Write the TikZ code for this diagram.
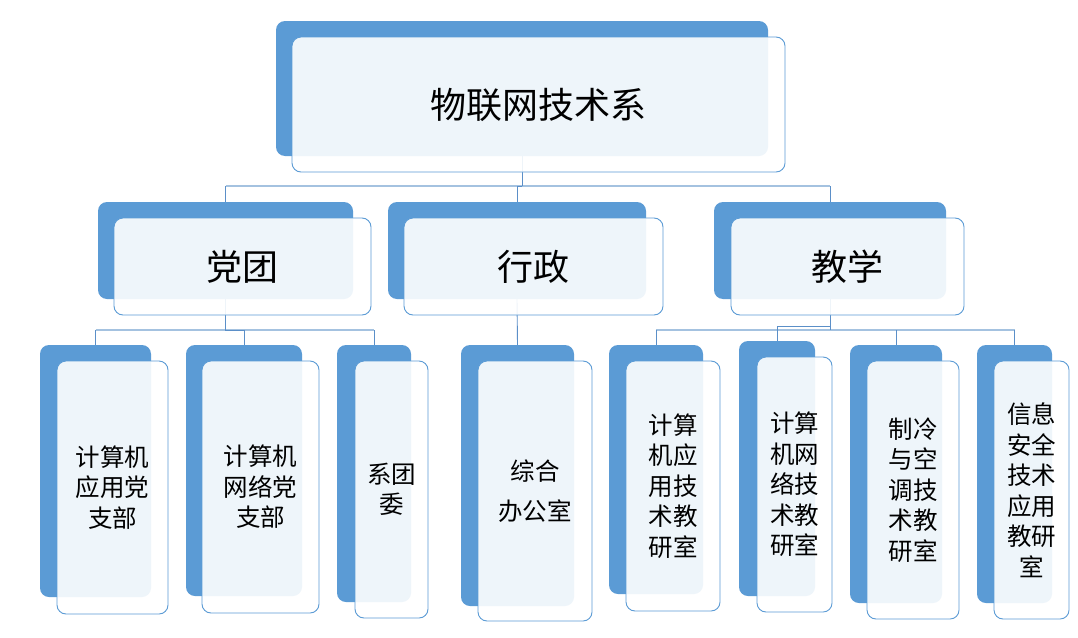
\documentclass[tikz,border=0pt]{standalone}
\usepackage{fontspec}
\newfontfamily\cjk{Noto Sans CJK SC}
\definecolor{backblue}{HTML}{5B9BD5}
\definecolor{edgeblue}{HTML}{5B9BD5}
\definecolor{connblue}{HTML}{5B8FC8}
\definecolor{busblue}{HTML}{A4C2E0}
\tikzset{
  back/.style={fill=backblue, draw=none, rounded corners=9pt, inner sep=0pt},
  front/.style={fill=white, fill opacity=0.9, text opacity=1, draw=edgeblue, line width=0.9pt, rounded corners=9pt, inner sep=0pt, align=center, font=\cjk},
  big/.style={font=\cjk\fontsize{36}{40}\selectfont},
  small/.style={font=\cjk\fontsize{24.5}{30.5}\selectfont},
  conn/.style={draw=connblue, line width=0.9pt},
  bus/.style={draw=busblue, line width=2pt},
}
\begin{document}
\begin{tikzpicture}[x=1pt,y=-1pt]
\useasboundingbox (0,0) rectangle (1078,637);
\fill[white] (0,0) rectangle (1078,637);
% bus coordinates
\coordinate (bus1) at (0,186);
\coordinate (bus2) at (0,330);
\coordinate (bus3) at (0,330);
\coordinate (bus3b) at (0,326);
% back boxes
\node[back, minimum width=492pt, minimum height=135pt] (t0b) at (522,88.5) {};
\node[back, minimum width=255pt, minimum height=97pt] (m1b) at (225.5,250.5) {};
\node[back, minimum width=258pt, minimum height=97pt] (m2b) at (517,250.5) {};
\node[back, minimum width=232pt, minimum height=97pt] (m3b) at (830,250.5) {};
\node[back, minimum width=111pt, minimum height=252pt] (l1b) at (95.5,471) {};
\node[back, minimum width=116pt, minimum height=251pt] (l2b) at (244,470.5) {};
\node[back, minimum width=74pt, minimum height=257pt] (l3b) at (374,473.5) {};
\node[back, minimum width=113pt, minimum height=261pt] (l4b) at (517.5,475.5) {};
\node[back, minimum width=94pt, minimum height=249pt] (l5b) at (656,469.5) {};
\node[back, minimum width=76pt, minimum height=255pt] (l6b) at (777,468.5) {};
\node[back, minimum width=92pt, minimum height=258pt] (l7b) at (896,474) {};
\node[back, minimum width=75pt, minimum height=258pt] (l8b) at (1014.5,474) {};
% connectors (behind front boxes)
\draw[bus] (m1b.north |- bus1) -- (m3b.north |- bus1);
\draw[conn] (t0b.south) -- (t0b.south |- bus1);
\draw[conn] (t0b.south |- bus1) -| (m2b.north);
\draw[conn] (m1b.north |- bus1) -- (m1b.north);
\draw[conn] (m3b.north |- bus1) -- (m3b.north);
\draw[bus] (l1b.north |- bus2) -- (l3b.north |- bus2);
\draw[conn] (m1b.south) -- (m1b.south |- bus2) -| (l2b.north);
\draw[conn] (l1b.north |- bus2) -- (l1b.north);
\draw[conn] (l3b.north |- bus2) -- (l3b.north);
\draw[conn] (m2b.south) -- (l4b.north);
\draw[bus] (l5b.north |- bus3) -- (l8b.north |- bus3);
\draw[conn] (m3b.south) -- (m3b.south |- bus3);
\draw[conn] (m3b.south |- bus3b) -| (l6b.north);
\draw[conn] (l5b.north |- bus3) -- (l5b.north);
\draw[conn] (l7b.north |- bus3) -- (l7b.north);
\draw[conn] (l8b.north |- bus3) -- (l8b.north);
% front boxes
\node[front, big, minimum width=493pt, minimum height=135pt] (t0) at (538.5,104.5) {物联网技术系};
\node[front, big, minimum width=257pt, minimum height=97pt] (m1) at (242.5,266.5) {党团};
\node[front, big, minimum width=259pt, minimum height=97pt] (m2) at (533.5,266.5) {行政};
\node[front, big, minimum width=233pt, minimum height=97pt] (m3) at (847.5,266.5) {教学};
\node[front, small, minimum width=111pt, minimum height=253pt] (l1) at (112.5,487.5) {计算机\\应用党\\支部};
\node[front, small, minimum width=117pt, minimum height=252pt] (l2) at (260.5,487) {计算机\\网络党\\支部};
\node[front, small, minimum width=73pt, minimum height=257pt] (l3) at (391.5,489.5) {系团\\委};
\node[front, font=\cjk\fontsize{24.5}{40}\selectfont, minimum width=114pt, minimum height=260pt] (l4) at (535,491) {综合\\办公室};
\node[front, small, minimum width=94pt, minimum height=250pt] (l5) at (673,486) {计算\\机应\\用技\\术教\\研室};
\node[front, small, minimum width=75pt, minimum height=255pt] (l6) at (794.5,484.5) {计算\\机网\\络技\\术教\\研室};
\node[front, small, minimum width=92pt, minimum height=258pt] (l7) at (913,490) {制冷\\与空\\调技\\术教\\研室};
\node[front, small, minimum width=75pt, minimum height=258pt] (l8) at (1031.5,490) {信息\\安全\\技术\\应用\\教研\\室};
\end{tikzpicture}
\end{document}
